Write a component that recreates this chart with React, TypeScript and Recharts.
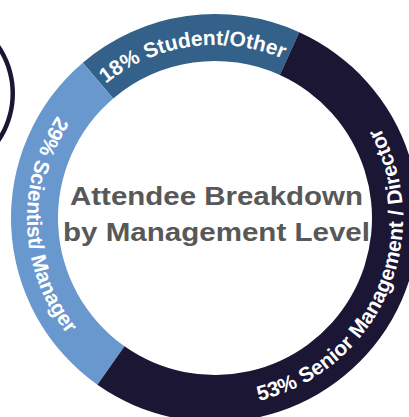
import React from 'react';
import { PieChart, Pie, Cell } from 'recharts';

const categories = ['Student/Other', 'Scientist/ Manager', 'Senior Management / Director'];
const shares = [18, 29, 53];
const titleLines = ['Attendee Breakdown', 'by Management Level'];

const colors = ['#346189', '#6998cf', '#1a1634'];
// 'out' = letters face outward (read clockwise), 'in' = letters face the centre
const labelFacing = ['out', 'in', 'in'];
const labelShift = [0, 0, 6];

const data = categories.map((name, i) => ({ name, value: shares[i] }));
const decoData = [{ name: 'deco', value: 1 }];

const RAD = Math.PI / 180;

const renderLabel = (props: any) => {
  const { cx, cy, midAngle, innerRadius, outerRadius, index } = props;
  const mid = (innerRadius + outerRadius) / 2;
  const out = labelFacing[index] === 'out';
  const r = out ? mid - 7.5 : mid + 7.5;
  const m = midAngle + labelShift[index];
  const h = 85;
  const a0 = out ? m + h : m - h;
  const a1 = out ? m - h : m + h;
  const x0 = cx + r * Math.cos(a0 * RAD);
  const y0 = cy - r * Math.sin(a0 * RAD);
  const x1 = cx + r * Math.cos(a1 * RAD);
  const y1 = cy - r * Math.sin(a1 * RAD);
  const id = `label-arc-${index}`;
  const d = `M ${x0} ${y0} A ${r} ${r} 0 ${2 * h > 180 ? 1 : 0} ${out ? 1 : 0} ${x1} ${y1}`;
  return (
    <g key={id}>
      <defs>
        <path id={id} d={d} fill="none" />
      </defs>
      <text fill="#ffffff" fontSize={21} fontWeight="bold" fontFamily="'Liberation Sans', Arial, sans-serif">
        <textPath href={`#${id}`} startOffset="50%" textAnchor="middle">
          {`${shares[index]}% ${categories[index]}`}
        </textPath>
      </text>
    </g>
  );
};

export default function App() {
  return (
    <div style={{ position: 'absolute', left: 0, top: 0, width: 409, height: 417, background: '#fff' }}>
      <PieChart width={409} height={417} margin={{ top: 0, right: 0, bottom: 0, left: 0 }}>
        <Pie
          data={decoData}
          dataKey="value"
          cx={-71}
          cy={93.5}
          innerRadius={81.5}
          outerRadius={86}
          stroke="none"
          fill="#1a1634"
          isAnimationActive={false}
        />
        <Pie
          data={data}
          dataKey="value"
          cx={215}
          cy={218}
          innerRadius={157}
          outerRadius={204}
          startAngle={65.6}
          endAngle={425.6}
          stroke="none"
          label={renderLabel}
          labelLine={false}
          isAnimationActive={false}
        >
          {data.map((d, i) => (
            <Cell key={d.name} fill={colors[i]} />
          ))}
        </Pie>
        <text
          x={216.5}
          y={205}
          textAnchor="middle"
          fill="#585858"
          fontSize={26}
          fontWeight="bold"
          fontFamily="'Liberation Sans', Arial, sans-serif"
          textLength={293}
          lengthAdjust="spacingAndGlyphs"
        >
          {titleLines[0]}
        </text>
        <text
          x={216.5}
          y={241}
          textAnchor="middle"
          fill="#585858"
          fontSize={26}
          fontWeight="bold"
          fontFamily="'Liberation Sans', Arial, sans-serif"
          textLength={307}
          lengthAdjust="spacingAndGlyphs"
        >
          {titleLines[1]}
        </text>
      </PieChart>
    </div>
  );
}
